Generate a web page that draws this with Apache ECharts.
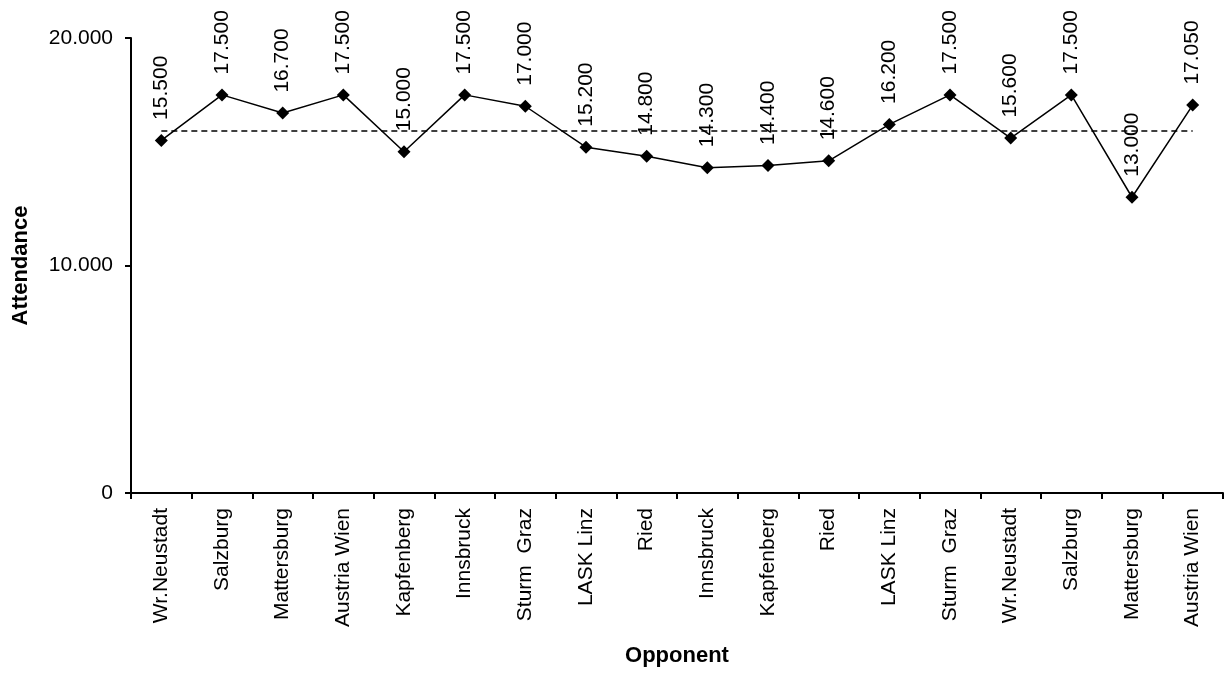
<!DOCTYPE html>
<html>
<head>
<meta charset="utf-8">
<script src="https://cdn.jsdelivr.net/npm/echarts@6/dist/echarts.min.js"></script>
<style>
html,body{margin:0;padding:0;background:#fff;}
#chart{width:1228px;height:675px;}
</style>
</head>
<body>
<div id="chart"></div>
<script>
var categories = ['Wr.Neustadt','Salzburg','Mattersburg','Austria Wien','Kapfenberg','Innsbruck','Sturm  Graz','LASK Linz','Ried','Innsbruck','Kapfenberg','Ried','LASK Linz','Sturm  Graz','Wr.Neustadt','Salzburg','Mattersburg','Austria Wien'];
var attendance = [15500,17500,16700,17500,15000,17500,17000,15200,14800,14300,14400,14600,16200,17500,15600,17500,13000,17050];
var yTicks = [0, 10000, 20000];

function fmt(v){
  var s = String(Math.round(v));
  return s.replace(/\B(?=(\d{3})+(?!\d))/g, '.');
}
var avg = attendance.reduce(function(a,b){return a+b;},0) / attendance.length;

var FONT = 'Liberation Sans';
var chart = echarts.init(document.getElementById('chart'), null, {renderer:'canvas'});
chart.setOption({
  animation:false,
  backgroundColor:'#ffffff',
  grid:{left:131, right:5, top:38, bottom:182, containLabel:false},
  xAxis:{
    type:'category',
    data:categories,
    boundaryGap:true,
    name:'Opponent',
    nameLocation:'middle',
    nameGap:152,
    nameTextStyle:{fontFamily:FONT, fontSize:22, fontWeight:'bold', color:'#000'},
    axisLine:{lineStyle:{color:'#000', width:2}},
    axisTick:{show:true, length:6, alignWithLabel:false, interval:0, lineStyle:{color:'#000', width:2}},
    axisLabel:{interval:0, rotate:90, margin:15, fontFamily:FONT, fontSize:21, color:'#000'},
    splitLine:{show:false}
  },
  yAxis:{
    type:'value',
    min:yTicks[0], max:yTicks[yTicks.length-1], interval:10000,
    name:'Attendance',
    nameLocation:'middle',
    nameGap:99,
    nameRotate:90,
    nameTextStyle:{fontFamily:FONT, fontSize:22, fontWeight:'bold', color:'#000'},
    axisLine:{show:true, lineStyle:{color:'#000', width:2}},
    axisTick:{show:true, length:6, lineStyle:{color:'#000', width:2}},
    axisLabel:{margin:18, fontFamily:FONT, fontSize:21, color:'#000', formatter:function(v){return fmt(v);}},
    splitLine:{show:false}
  },
  series:[{
    type:'line',
    data:attendance,
    symbol:'diamond',
    symbolSize:13,
    itemStyle:{color:'#000'},
    lineStyle:{color:'#000', width:1.5},
    label:{
      show:true,
      position:'top',
      distance:14,
      rotate:90,
      align:'left',
      verticalAlign:'middle',
      fontFamily:FONT, fontSize:21, color:'#000',
      formatter:function(p){return fmt(p.value);}
    },
    markLine:{
      silent:true,
      symbol:['none','none'],
      label:{show:false},
      lineStyle:{color:'#000', type:[6,4], width:1.5},
      data:[[{coord:[0, avg]},{coord:[categories.length-1, avg]}]]
    },
    z:3
  }]
});
</script>
</body>
</html>
